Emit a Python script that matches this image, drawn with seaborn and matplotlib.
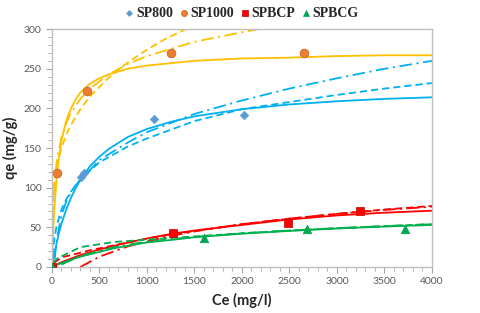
import numpy as np
import pandas as pd
import matplotlib.pyplot as plt
import seaborn as sns

# measured points
sp800_ce = [0, 310, 340, 1070, 2020]
sp800_qe = [0, 113, 118, 187, 192]
sp1000_ce = [0, 56, 370, 1250, 2650]
sp1000_qe = [0, 119, 222, 270, 270]
spbcp_ce = [0, 1270, 2490, 3240]
spbcp_qe = [0, 43, 55, 71]
spbcg_ce = [0, 1600, 2680, 3720]
spbcg_qe = [0, 37, 48.5, 47.5]

# model curves (solid / dashed / dash-dot)
sp1000_l_ce = [0, 10, 25, 50, 75, 100, 150, 200, 250, 300, 400, 500, 600, 800, 1000, 1500, 2000, 2500, 3000, 3500, 4000]
sp1000_l_qe = [0, 33, 70, 112, 139, 159, 184, 200, 211, 220, 231, 238, 243, 250, 254, 260, 263, 264, 266, 267, 267]
sp1000_f_ce = [0, 1, 5, 10, 25, 50, 100, 150, 200, 300, 400, 600, 800, 1000, 1200, 1500]
sp1000_f_qe = [0, 44, 68, 81, 104, 125, 150, 166, 179, 199, 215, 239, 258, 274, 288, 305]
sp1000_t_ce = [3, 5, 10, 25, 50, 100, 150, 200, 300, 400, 600, 800, 1000, 1500, 2000, 2300]
sp1000_t_qe = [0, 29, 60, 101, 132, 163, 181, 194, 212, 225, 243, 256, 266, 284, 296, 303]

sp800_l_ce = [0, 25, 50, 75, 100, 150, 200, 250, 300, 400, 500, 600, 800, 1000, 1250, 1500, 2000, 2500, 3000, 3500, 4000]
sp800_l_qe = [0, 16, 30, 43, 54, 72, 87, 99, 110, 127, 139, 149, 164, 174, 183, 190, 199, 205, 209, 212, 214]
sp800_f_ce = [0, 10, 20, 50, 100, 150, 200, 320, 500, 800, 1000, 1500, 2000, 2500, 3000, 3500, 4000]
sp800_f_qe = [0, 20, 30, 52, 72, 85, 95, 113, 132, 152, 162, 184, 199, 208, 217, 225, 232]
sp800_t_ce = [30, 45, 60, 100, 150, 200, 250, 320, 500, 800, 1000, 1500, 2000, 2500, 3000, 3500, 4000]
sp800_t_qe = [10, 27, 40, 65, 82, 94, 103, 112, 135, 157, 170, 193, 210, 225, 238, 250, 260]

spbcp_l_ce = [0, 100, 300, 500, 700, 1000, 1270, 1500, 2000, 2500, 3000, 3500, 4000]
spbcp_l_qe = [0, 6, 15, 22, 28, 36, 42, 46, 53, 60, 65, 68.5, 71]
spbcp_f_ce = [20, 100, 400, 800, 1200, 1600, 2000, 2500, 3000, 3500, 4000]
spbcp_f_qe = [5, 12, 21, 31, 40, 47, 54, 61, 67, 72.5, 77]
spbcp_t_ce = [300, 500, 800, 1200, 1600, 2000, 2500, 3000, 3500, 4000]
spbcp_t_qe = [0, 13, 26, 38, 47, 54, 61, 67, 72, 76]

spbcg_l_ce = [0, 100, 300, 650, 1000, 1250, 1500, 2000, 2500, 3000, 3500, 4000]
spbcg_l_qe = [0, 5, 13, 23.5, 31, 34, 37.5, 42, 45.5, 48.5, 51, 53]
spbcg_f_ce = [10, 60, 300, 650, 1000, 1500, 2000, 2500, 3000, 3500, 4000]
spbcg_f_qe = [5, 11, 25, 31.5, 34.5, 38.5, 42.5, 46, 49, 51.5, 54]
spbcg_t_ce = [100, 300, 650, 1000, 1500, 2000, 2500, 3000, 3500, 4000]
spbcg_t_qe = [3, 14, 25, 32, 38, 42.5, 46, 49, 51.5, 54]

sns.set_style('white')
plt.rcParams['font.family'] = ['Lato', 'DejaVu Sans']

fig = plt.figure(figsize=(4.8, 3.13), dpi=100)
ax = fig.add_axes([0.108, 0.147, 0.792, 0.76])

dash = (0, (4, 2.2))
dashdot = (0, (7, 2.5, 1.2, 2.5))

curves = [
    (sp1000_l_ce, sp1000_l_qe, '#FFC000', '-'),
    (sp1000_f_ce, sp1000_f_qe, '#FFC000', dash),
    (sp1000_t_ce, sp1000_t_qe, '#FFC000', dashdot),
    (sp800_l_ce, sp800_l_qe, '#00B0F0', '-'),
    (sp800_f_ce, sp800_f_qe, '#00B0F0', dash),
    (sp800_t_ce, sp800_t_qe, '#00B0F0', dashdot),
    (spbcp_l_ce, spbcp_l_qe, '#FF0000', '-'),
    (spbcp_f_ce, spbcp_f_qe, '#FF0000', dash),
    (spbcp_t_ce, spbcp_t_qe, '#FF0000', dashdot),
    (spbcg_l_ce, spbcg_l_qe, '#00B050', '-'),
    (spbcg_f_ce, spbcg_f_qe, '#00B050', dash),
    (spbcg_t_ce, spbcg_t_qe, '#00B050', dashdot),
]
for ce, qe, col, ls in curves:
    sns.lineplot(x=ce, y=qe, ax=ax, color=col, linestyle=ls, linewidth=1.3, zorder=2)

sns.scatterplot(x=sp800_ce, y=sp800_qe, ax=ax, marker='D', s=20, color='#5B9BD5', edgecolor='#5B9BD5', label='SP800', zorder=3)
sns.scatterplot(x=sp1000_ce, y=sp1000_qe, ax=ax, marker='o', s=40, color='#ED7D31', edgecolor='#C0632A', linewidth=0.5, label='SP1000', zorder=3)
sns.scatterplot(x=spbcp_ce, y=spbcp_qe, ax=ax, marker='s', s=36, color='#FF0000', edgecolor='#C00000', linewidth=0.5, label='SPBCP', zorder=3)
sns.scatterplot(x=spbcg_ce, y=spbcg_qe, ax=ax, marker='^', s=38, color='#00A650', edgecolor='#00A650', label='SPBCG', zorder=3)

ax.set_xlim(0, 4000)
ax.set_ylim(0, 300)
ax.set_xticks(range(0, 4001, 500))
ax.set_yticks(range(0, 301, 50))
ax.set_xticks(range(0, 4001, 100), minor=True)
ax.set_yticks(range(0, 301, 10), minor=True)
ax.tick_params(which='both', direction='out', color='#A6A6A6', labelcolor='#595959', labelsize=7.5)
ax.tick_params(which='major', length=4, width=0.8)
ax.tick_params(which='minor', length=3, width=0.6)
ax.tick_params(axis='x', which='both', bottom=True)
ax.tick_params(axis='y', which='both', left=True)
for s in ax.spines.values():
    s.set_color('#BFBFBF')
    s.set_linewidth(1)

ax.set_xlabel('Ce (mg/l)', fontsize=10.5, fontweight='bold', labelpad=5)
ax.set_ylabel('qe (mg/g)', fontsize=10.5, fontweight='bold', labelpad=4)

ax.legend(loc='lower center', bbox_to_anchor=(0.5, 1.0), ncol=4, frameon=False,
          prop={'family': 'Liberation Serif', 'weight': 'bold', 'size': 10},
          handlelength=0.6, handletextpad=0.2, columnspacing=0.45,
          markerscale=0.7, borderaxespad=0.25)

fig.savefig('out.png', dpi=100)
